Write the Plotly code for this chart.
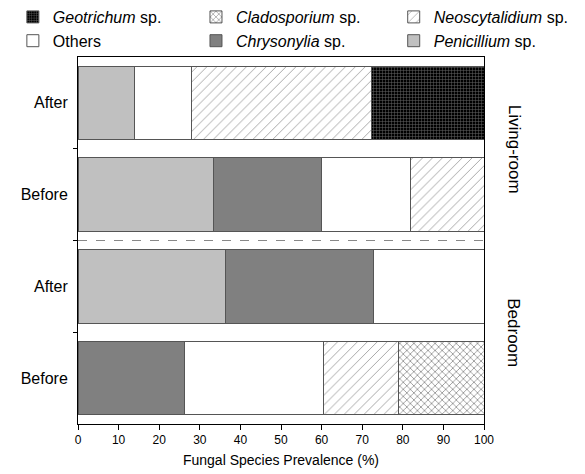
import plotly.graph_objects as go

# Rows (bottom to top)
rooms = ["Bedroom", "Bedroom", "Living-room", "Living-room"]
periods = ["Before", "After", "Before", "After"]
row_pos = [0, 1, 2, 3]

# Prevalence (%) per species, per row (Bed Before, Bed After, Liv Before, Liv After)
penicillium = [0, 36.4, 33.3, 13.8]
chrysonylia = [26.3, 36.4, 26.7, 0]
others = [34.2, 27.2, 22.0, 14.2]
neoscytalidium = [18.4, 0, 18.0, 44.3]
cladosporium = [21.1, 0, 0, 0]
geotrichum = [0, 0, 0, 27.7]

x_ticks = [0, 10, 20, 30, 40, 50, 60, 70, 80, 90, 100]

FONT = "Liberation Sans, Arial, sans-serif"
edge = dict(color="#555555", width=1)

series = [
    ("<i>Penicillium</i> sp.", penicillium, dict(color="#c0c0c0", line=edge), "legend3"),
    ("<i>Chrysonylia</i> sp.", chrysonylia, dict(color="#808080", line=edge), "legend2"),
    ("Others", others, dict(color="white", line=edge), "legend"),
    ("<i>Neoscytalidium</i> sp.", neoscytalidium,
     dict(color="white", line=edge,
          pattern=dict(shape="/", fgcolor="#333333", bgcolor="white", size=7, solidity=0.12)), "legend3"),
    ("<i>Cladosporium</i> sp.", cladosporium,
     dict(color="white", line=edge,
          pattern=dict(shape="x", fgcolor="#222222", bgcolor="white", size=5, solidity=0.3)), "legend2"),
    ("<i>Geotrichum</i> sp.", geotrichum,
     dict(color="black", line=edge,
          pattern=dict(shape="+", fgcolor="#cccccc", bgcolor="black", size=3, solidity=0.3)), "legend"),
]

fig = go.Figure()
for name, vals, marker, leg in series:
    fig.add_trace(go.Bar(
        x=vals, y=row_pos, orientation="h", name=name, marker=marker,
        width=0.8, legend=leg,
    ))

def legend_cfg(x):
    return dict(
        orientation="v", traceorder="reversed",
        xref="container", yref="container", x=x, y=1.0,
        xanchor="left", yanchor="top",
        font=dict(size=16, family=FONT), itemwidth=30,
        tracegroupgap=0, bgcolor="rgba(0,0,0,0)",
    )

fig.update_layout(
    barmode="stack",
    width=585, height=474,
    margin=dict(l=78, r=101, t=57, b=50, autoexpand=False),
    plot_bgcolor="white", paper_bgcolor="white",
    font=dict(family=FONT, color="black"),
    showlegend=True,
    legend=legend_cfg(0.022),
    legend2=legend_cfg(0.335),
    legend3=legend_cfg(0.673),
)

fig.update_xaxes(
    range=[0, 100], tickvals=x_ticks, ticks="outside", ticklen=5,
    tickcolor="black", showline=True, linecolor="black", linewidth=1,
    mirror=True, showgrid=False, zeroline=False,
    tickfont=dict(size=12, family=FONT),
    title=dict(text="Fungal Species Prevalence (%)", font=dict(size=14, family=FONT), standoff=8),
)
fig.update_yaxes(
    range=[-0.5, 3.5], tickvals=row_pos, ticktext=periods, ticks="",
    showline=True, linecolor="black", linewidth=1, mirror=True,
    showgrid=False, zeroline=False,
    tickfont=dict(size=16, family=FONT), ticklabelstandoff=6,
    minor=dict(tickvals=[0.5, 1.5, 2.5], ticks="outside", ticklen=4, tickcolor="black"),
)

# dashed separator between rooms
fig.add_shape(type="line", xref="paper", x0=0, x1=1, yref="y", y0=1.5, y1=1.5,
              line=dict(color="#888888", width=1, dash="dash"))

# room labels on the right
for label, yc in [("Living-room", 2.5), ("Bedroom", 0.5)]:
    fig.add_annotation(text=label, xref="paper", x=1.0, xanchor="center", xshift=30,
                       yref="y", y=yc, showarrow=False, textangle=90,
                       font=dict(size=17, family=FONT))

fig.write_html("out.html", config={"displayModeBar": False},
               post_script="document.body.style.margin='0';")
